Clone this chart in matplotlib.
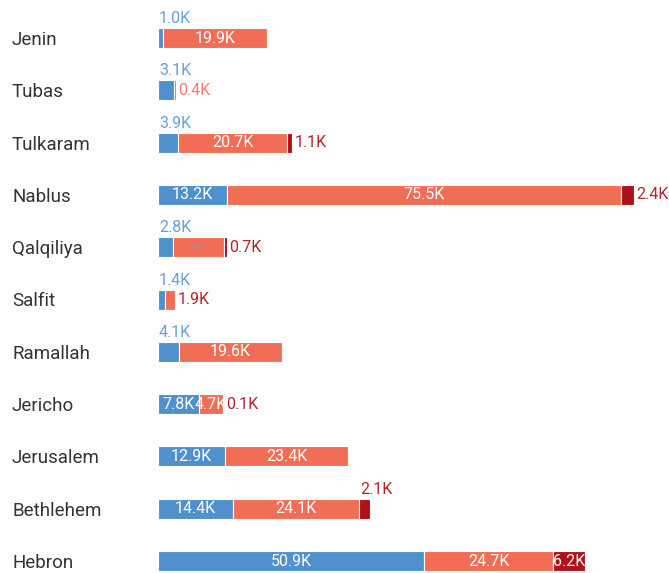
import matplotlib.pyplot as plt

districts = ['Jenin', 'Tubas', 'Tulkaram', 'Nablus', 'Qalqiliya', 'Salfit',
             'Ramallah', 'Jericho', 'Jerusalem', 'Bethlehem', 'Hebron']
blue_vals = [1.0, 3.1, 3.9, 13.2, 2.8, 1.4, 4.1, 7.8, 12.9, 14.4, 50.9]
red_vals = [19.9, 0.4, 20.7, 75.5, 9.8, 1.9, 19.6, 4.7, 23.4, 24.1, 24.7]
dark_vals = [0, 0, 1.1, 2.4, 0.7, 0, 0, 0.1, 0, 2.1, 6.2]

# where each value label goes: in / above / right / tiny / none
blue_pos = ['above', 'above', 'above', 'in', 'above', 'above', 'above', 'in', 'in', 'in', 'in']
red_pos = ['in', 'right', 'in', 'in', 'tiny', 'rightdark', 'in', 'in', 'in', 'in', 'in']
dark_pos = ['none', 'none', 'right', 'right', 'right', 'none', 'none', 'right', 'none', 'above', 'in']

BLUE = '#5090cd'
RED = '#f26d55'
DARK = '#ae1119'
BLUE_TXT = '#6a9fd8'
RED_TXT = '#f27d68'
DARK_TXT = '#b3262c'

plt.rcParams['font.family'] = ['Roboto', 'DejaVu Sans']

fig = plt.figure(figsize=(6.69, 5.73), dpi=100)
W, H = 669, 573
x0 = 158
px_per_k = 5.225
ax = fig.add_axes([x0 / W, 0, (W - x0) / W, 1])
ax.set_xlim(0, (W - x0) / px_per_k)
row = 52.3
ax.set_ylim((H - 38) / row, -38 / row)
ax.axis('off')

bh = 20 / row
k = 1 / px_per_k  # one pixel in data units
fs = 11.5
fw = 'normal'

def put_label(y, left, val, pos, color, rect):
    txt = f'{val:.1f}K'
    right = left + val
    if pos == 'in':
        t = ax.text(left + val / 2, y, txt, ha='center', va='center',
                    color='white', fontsize=fs, fontweight=fw)
        t.set_clip_path(rect)
    elif pos == 'tiny':
        ax.text(left + val / 2, y, txt, ha='center', va='center',
                color='#999999', fontsize=5, fontweight=fw)
    elif pos == 'above':
        ax.text(left + 0.2, y - bh / 2 - 2 / row, txt, ha='left',
                va='bottom', color=color, fontsize=fs, fontweight=fw)
    elif pos in ('right', 'rightdark'):
        c = DARK_TXT if pos == 'rightdark' else color
        ax.text(right + 2 * k, y, txt, ha='left', va='center',
                color=c, fontsize=fs, fontweight=fw)

for i, name in enumerate(districts):
    y = i
    b, r, d = blue_vals[i], red_vals[i], dark_vals[i]
    rb = ax.barh(y, b, left=0, height=bh, color=BLUE, edgecolor='white', linewidth=0.8)[0]
    rr = ax.barh(y, r, left=b, height=bh, color=RED, edgecolor='white', linewidth=0.8)[0]
    put_label(y, 0, b, blue_pos[i], BLUE_TXT, rb)
    put_label(y, b, r, red_pos[i], RED_TXT, rr)
    if d > 0:
        rd = ax.barh(y, d, left=b + r, height=bh, color=DARK, edgecolor='white', linewidth=0.8)[0]
        put_label(y, b + r, d, dark_pos[i], DARK_TXT, rd)
    fig.text(12 / W, 1 - (38 + i * row + 2) / H, name, ha='left', va='center',
             fontsize=13.5, color='#333333')

fig.savefig('out.png', dpi=100)
